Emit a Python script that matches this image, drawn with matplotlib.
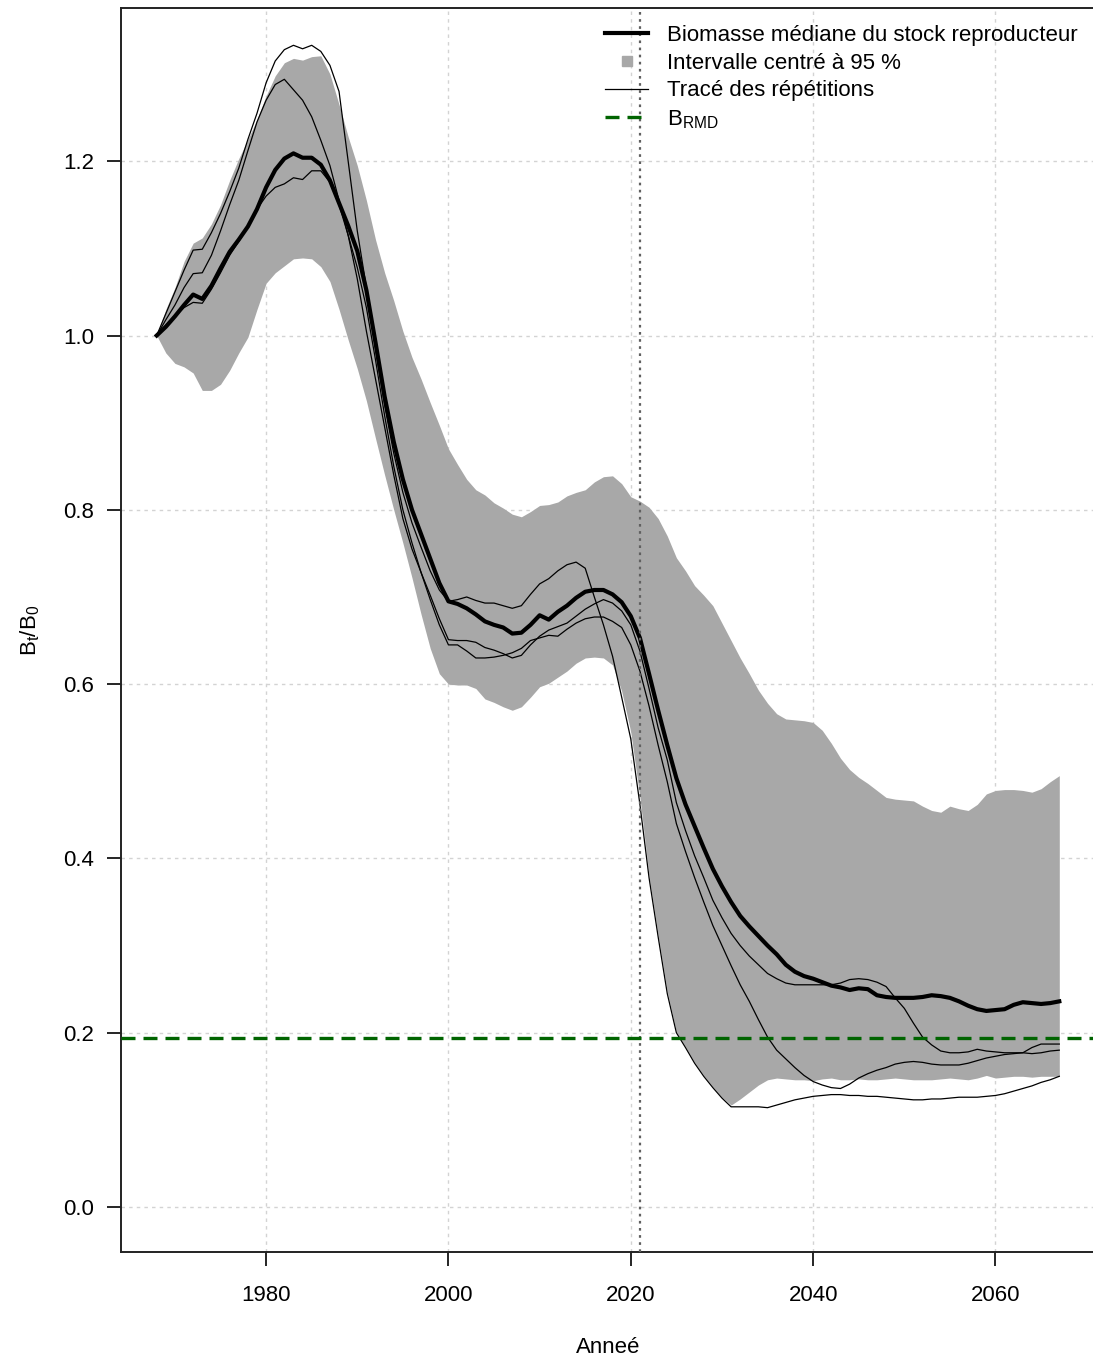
import matplotlib
matplotlib.use("Agg")
import matplotlib.pyplot as plt
from matplotlib.lines import Line2D

# ---------------- data ----------------
years = list(range(1968, 2068))

median = [
    1.000, 1.010, 1.022, 1.035, 1.047, 1.042, 1.057, 1.077, 1.096, 1.110,
    1.125, 1.145, 1.170, 1.190, 1.203, 1.209, 1.204, 1.204, 1.196, 1.178,
    1.152, 1.126, 1.097, 1.052, 0.992, 0.930, 0.878, 0.835, 0.800, 0.772,
    0.744, 0.716, 0.695, 0.692, 0.687, 0.680, 0.672, 0.668, 0.665, 0.658,
    0.659, 0.668, 0.679, 0.674, 0.683, 0.690, 0.699, 0.706, 0.708, 0.708,
    0.703, 0.694, 0.678, 0.653, 0.612, 0.570, 0.530, 0.492, 0.462, 0.437,
    0.412, 0.388, 0.368, 0.350, 0.334, 0.322, 0.311, 0.300, 0.290, 0.278,
    0.270, 0.265, 0.262, 0.258, 0.254, 0.252, 0.249, 0.251, 0.250, 0.243,
    0.241, 0.240, 0.240, 0.240, 0.241, 0.243, 0.242, 0.240, 0.236, 0.231,
    0.227, 0.225, 0.226, 0.227, 0.232, 0.235, 0.234, 0.233, 0.234, 0.236,
]

upper = [
    1.000, 1.030, 1.055, 1.085, 1.106, 1.112, 1.128, 1.150, 1.178, 1.203,
    1.225, 1.248, 1.275, 1.298, 1.313, 1.318, 1.316, 1.320, 1.321, 1.300,
    1.265, 1.228, 1.195, 1.155, 1.110, 1.072, 1.040, 1.005, 0.975, 0.950,
    0.923, 0.897, 0.870, 0.852, 0.835, 0.823, 0.817, 0.808, 0.802, 0.795,
    0.792, 0.798, 0.805, 0.806, 0.809, 0.816, 0.820, 0.823, 0.832, 0.838,
    0.839, 0.830, 0.815, 0.810, 0.803, 0.790, 0.770, 0.745, 0.730, 0.713,
    0.702, 0.690, 0.670, 0.650, 0.630, 0.612, 0.593, 0.578, 0.566, 0.560,
    0.559, 0.558, 0.556, 0.547, 0.532, 0.515, 0.502, 0.493, 0.486, 0.478,
    0.470, 0.468, 0.467, 0.466, 0.460, 0.455, 0.453, 0.460, 0.457, 0.455,
    0.462, 0.474, 0.478, 0.479, 0.479, 0.478, 0.476, 0.480, 0.488, 0.495,
]

lower = [
    1.000, 0.980, 0.968, 0.964, 0.957, 0.937, 0.937, 0.944, 0.960, 0.980,
    0.998, 1.030, 1.060, 1.072, 1.080, 1.088, 1.089, 1.088, 1.079, 1.062,
    1.030, 0.995, 0.962, 0.925, 0.882, 0.840, 0.800, 0.762, 0.722, 0.680,
    0.641, 0.612, 0.600, 0.599, 0.599, 0.595, 0.583, 0.579, 0.574, 0.570,
    0.574, 0.585, 0.597, 0.601, 0.608, 0.615, 0.624, 0.630, 0.631, 0.630,
    0.622, 0.592, 0.545, 0.470, 0.380, 0.312, 0.247, 0.201, 0.184, 0.166,
    0.151, 0.138, 0.126, 0.117, 0.124, 0.132, 0.140, 0.146, 0.148, 0.147,
    0.146, 0.146, 0.145, 0.147, 0.148, 0.146, 0.146, 0.147, 0.146, 0.146,
    0.147, 0.148, 0.147, 0.146, 0.146, 0.146, 0.147, 0.148, 0.147, 0.146,
    0.148, 0.151, 0.148, 0.149, 0.150, 0.150, 0.149, 0.150, 0.150, 0.150,
]

rep_a = [
    1.000, 1.025, 1.050, 1.075, 1.098, 1.099, 1.118, 1.140, 1.165, 1.192,
    1.225, 1.255, 1.290, 1.315, 1.328, 1.333, 1.329, 1.333, 1.326, 1.310,
    1.280, 1.200, 1.120, 1.055, 0.985, 0.920, 0.865, 0.820, 0.785, 0.757,
    0.730, 0.708, 0.695, 0.697, 0.700, 0.696, 0.693, 0.693, 0.690, 0.687,
    0.690, 0.703, 0.715, 0.721, 0.730, 0.737, 0.740, 0.733, 0.700, 0.668,
    0.632, 0.585, 0.537, 0.462, 0.378, 0.310, 0.245, 0.200, 0.183, 0.165,
    0.150, 0.137, 0.125, 0.115, 0.115, 0.115, 0.115, 0.114, 0.117, 0.120,
    0.123, 0.125, 0.127, 0.128, 0.129, 0.129, 0.128, 0.128, 0.127, 0.127,
    0.126, 0.125, 0.124, 0.123, 0.123, 0.124, 0.124, 0.125, 0.126, 0.126,
    0.126, 0.127, 0.128, 0.130, 0.133, 0.136, 0.139, 0.143, 0.146, 0.150,
]

rep_b = [
    1.000, 1.018, 1.035, 1.055, 1.071, 1.072, 1.092, 1.120, 1.150, 1.178,
    1.212, 1.245, 1.270, 1.288, 1.294, 1.282, 1.270, 1.251, 1.224, 1.195,
    1.155, 1.115, 1.065, 1.005, 0.950, 0.895, 0.840, 0.790, 0.755, 0.728,
    0.702, 0.675, 0.651, 0.650, 0.650, 0.648, 0.642, 0.639, 0.635, 0.630,
    0.633, 0.645, 0.655, 0.662, 0.666, 0.670, 0.678, 0.686, 0.692, 0.697,
    0.693, 0.684, 0.668, 0.638, 0.595, 0.550, 0.513, 0.464, 0.432, 0.403,
    0.378, 0.352, 0.332, 0.314, 0.300, 0.288, 0.278, 0.268, 0.262, 0.257,
    0.255, 0.255, 0.255, 0.255, 0.255, 0.257, 0.261, 0.262, 0.261, 0.258,
    0.253, 0.240, 0.228, 0.211, 0.195, 0.186, 0.179, 0.177, 0.177, 0.178,
    0.181, 0.179, 0.178, 0.177, 0.177, 0.177, 0.176, 0.177, 0.179, 0.180,
]

rep_c = [
    1.000, 1.012, 1.022, 1.032, 1.038, 1.037, 1.053, 1.072, 1.092, 1.108,
    1.125, 1.145, 1.160, 1.170, 1.174, 1.181, 1.179, 1.189, 1.189, 1.176,
    1.150, 1.115, 1.078, 1.032, 0.972, 0.908, 0.850, 0.800, 0.762, 0.728,
    0.697, 0.668, 0.645, 0.645, 0.638, 0.630, 0.630, 0.631, 0.633, 0.636,
    0.641, 0.650, 0.653, 0.656, 0.655, 0.663, 0.670, 0.675, 0.677, 0.677,
    0.672, 0.665, 0.645, 0.615, 0.575, 0.530, 0.488, 0.440, 0.408, 0.378,
    0.350, 0.323, 0.300, 0.277, 0.255, 0.236, 0.215, 0.195, 0.180, 0.170,
    0.160, 0.151, 0.144, 0.140, 0.137, 0.136, 0.141, 0.148, 0.153, 0.157,
    0.160, 0.164, 0.166, 0.167, 0.166, 0.164, 0.163, 0.163, 0.163, 0.165,
    0.168, 0.171, 0.173, 0.175, 0.176, 0.177, 0.183, 0.187, 0.187, 0.187,
]

b_rmd = 0.194
current_year = 2021

x_ticks = [1980, 2000, 2020, 2040, 2060]
y_ticks = [0.0, 0.2, 0.4, 0.6, 0.8, 1.0, 1.2]
y_tick_labels = ["0.0", "0.2", "0.4", "0.6", "0.8", "1.0", "1.2"]

legend_labels = [
    "Biomasse médiane du stock reproducteur",
    "Intervalle centré à 95 %",
    "Tracé des répétitions",
    r"$\mathregular{B_{RMD}}$",
]
x_label = "Anneé"
y_label = r"$\mathregular{B_t/B_0}$"

# ---------------- style ----------------
plt.rcParams["font.family"] = ["Liberation Sans", "DejaVu Sans"]
plt.rcParams["mathtext.fontset"] = "custom"
plt.rcParams["mathtext.rm"] = "Liberation Sans"
plt.rcParams["mathtext.it"] = "Liberation Sans:italic"
plt.rcParams["mathtext.bf"] = "Liberation Sans:bold"

W, H = 1093, 1359
fig = plt.figure(figsize=(W / 100, H / 100), dpi=100)
left_px, right_px, top_px, bottom_px = 120.6, 1095.4, 8, 1252
ax = fig.add_axes([left_px / W, 1 - bottom_px / H,
                   (right_px - left_px) / W, (bottom_px - top_px) / H])

band_col = "#A8A8A8"
grid_col = "#D3D3D3"

ax.fill_between(years, lower, upper, color=band_col, lw=0, zorder=2)
for rep in (rep_a, rep_b, rep_c):
    ax.plot(years, rep, color="black", lw=0.9, zorder=3)
ax.plot(years, median, color="black", lw=3.0, zorder=4, solid_joinstyle="round")

ax.axvline(current_year, color="#606060", lw=1.6, ls=(0, (1.2, 2.0)), zorder=5)
ax.axhline(b_rmd, color="#006400", lw=2.4, ls=(0, (4.2, 2.4)), zorder=5)

ax.set_xlim(1964.04, 2070.96)
ax.set_ylim(-0.0516, 1.3758)
ax.set_xticks(x_ticks)
ax.set_yticks(y_ticks)
ax.set_yticklabels(y_tick_labels)
ax.grid(True, color=grid_col, lw=1.0, ls=(0, (2.5, 3)), zorder=0)
ax.set_axisbelow(True)

ax.tick_params(axis="both", labelsize=16, length=10, width=1.2, colors="black")
ax.tick_params(axis="y", pad=9)
ax.tick_params(axis="x", pad=14)

for side in ("left", "bottom", "top"):
    ax.spines[side].set_linewidth(1.4)
    ax.spines[side].set_color("#222222")
ax.spines["right"].set_visible(False)

ax.set_xlabel(x_label, fontsize=16, labelpad=22)
ax.set_ylabel(y_label, fontsize=16, labelpad=15)

handles = [
    Line2D([], [], color="black", lw=3.0),
    Line2D([], [], ls="none", marker="s", ms=7, color=band_col),
    Line2D([], [], color="black", lw=0.9),
    Line2D([], [], color="#006400", lw=2.4, ls=(0, (4.2, 2.4))),
]
fig.legend(handles, legend_labels, loc="upper left",
           bbox_to_anchor=(605 / W, 1 - 25 / H), frameon=False,
           fontsize=16, handlelength=1.95, handletextpad=0.85,
           labelspacing=0.3, borderpad=0, borderaxespad=0)

fig.savefig("out.png", dpi=100)
